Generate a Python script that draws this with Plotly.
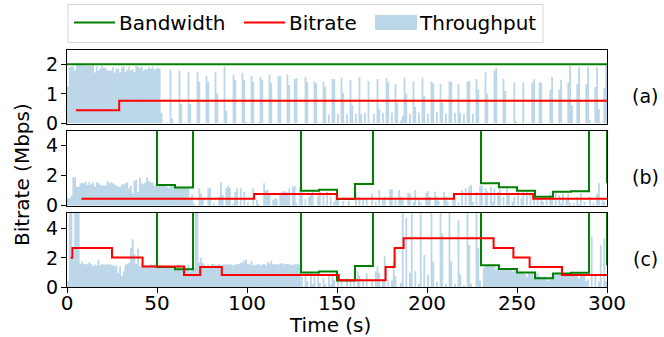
import plotly.graph_objects as go
from plotly.subplots import make_subplots

# ---------------- data ----------------
# Bandwidth traces (Mbps), step-post at given times
bw_a_t = [0, 300]
bw_a_v = [2.0, 2.0]
bw_bc_t = [0, 50, 60, 70, 130, 140, 150, 160, 170, 230, 240, 250, 260, 270, 280, 290, 300]
bw_bc_v = [10, 1.38, 1.22, 10, 1.0, 1.07, 0.45, 1.45, 10, 1.5, 1.23, 0.99, 0.6, 0.93, 0.97, 10, 1.5]

# Bitrate traces (Mbps), step-post
br_a_t = [5, 29, 300]
br_a_v = [0.45, 0.77, 0.77]
br_b_t = [8, 104, 150, 215, 259, 300]
br_b_v = [0.47, 0.78, 0.47, 0.78, 0.47, 0.47]
br_c_t = [2, 3, 25, 42, 65, 74, 86, 151, 177, 182, 187, 237, 248, 257, 275, 300]
br_c_v = [2.0, 2.67, 2.03, 1.4, 0.82, 1.38, 0.82, 0.47, 1.38, 2.67, 3.35, 2.67, 2.03, 1.38, 0.82, 0.82]

# Throughput (Mbps), per-second samples (time in s, value)
tp_a_t = list(range(0, 52)) + [
    52, 55, 57, 58, 62, 63, 65, 67, 68, 72, 73, 77, 78, 82, 83, 87, 88, 92, 93, 97, 98, 99,
    102, 103, 106, 107, 108, 112, 113, 117, 118, 122, 123, 126, 127, 132, 133, 137, 138,
    142, 143, 145, 147, 148, 150, 152, 153, 155, 157, 158, 160, 162, 163, 165, 167, 170,
    172, 173, 175, 177, 178, 180, 182, 183, 185, 186, 187, 188, 190, 192, 193, 195, 197,
    198, 200, 202, 203, 205, 207, 208, 210, 212, 213, 215, 217, 218, 220, 222, 223, 225,
    227, 228, 232, 233, 237, 238, 242, 243, 248, 249, 253, 258, 259, 262, 263, 268, 269,
    273, 274, 278, 279, 280, 283, 284, 288, 289, 290, 293, 294, 295, 298, 299]
tp_a_v = [
    1.24, 1.9, 1.92, 1.93, 1.8, 1.97, 1.98, 1.98, 1.97, 1.96, 1.97, 1.95, 1.96, 1.95, 1.97,
    1.72, 1.92, 1.78, 1.85, 1.94, 1.87, 1.87, 1.79, 1.8, 1.78, 1.9, 1.72, 1.86, 1.85, 1.72,
    1.9, 1.92, 1.74, 1.81, 1.92, 1.79, 1.83, 1.74, 1.94, 1.92, 1.87, 1.92, 1.79, 1.83, 1.83,
    1.9, 1.85, 1.92, 1.82, 1.85, 1.88, 1.84,
    0.36, 0.03, 1.81, 0.17, 1.79, 0.66, 0.03, 1.73, 0.66, 1.73, 1.41, 1.6, 1.41, 1.73, 1.02,
    1.92, 0.43, 1.65, 1.47, 1.71, 1.47, 0.05, 1.6, 1.41, 0.03, 1.58, 1.47, 1.65, 1.36, 1.6,
    1.6, 1.65, 1.3, 1.5, 1.53, 1.58, 1.41, 1.42, 1.36, 1.42, 1.24, 0.3, 1.5, 1.49, 0.32,
    1.54, 1.04, 0.32, 1.47, 0.62, 0.32, 1.57, 0.32, 0.36, 1.43, 0.32, 1.5, 0.49, 0.36, 1.53,
    1.39, 0.36, 1.33, 0.7, 0.1, 0.25, 1.54, 1.0, 0.32, 1.42, 0.56, 0.36, 1.54, 0.93, 0.32,
    1.42, 1.36, 0.4, 1.33, 0.7, 0.32, 1.42, 1.42, 0.36, 1.33, 0.36, 0.32, 1.4, 1.43, 0.32,
    1.5, 1.15, 1.73, 1.0, 1.79, 1.88, 1.5, 1.1, 1.38, 0.08, 1.38, 1.38, 1.49, 1.38, 1.38,
    1.13, 1.57, 1.15, 1.47, 1.39, 1.94, 0.62, 1.33, 1.9, 1.33, 1.9, 0.11, 1.23, 1.9, 0.49,
    1.19, 1.95]

tp_b_t = list(range(0, 71)) + [
    73, 74, 75, 78, 79, 81, 84, 85, 86, 88, 89, 90, 92, 93, 94, 96, 98, 100, 103, 105, 106,
    109, 110, 111, 112, 114, 115, 116, 118, 119, 120, 121, 122, 123, 125, 126, 127, 129,
    130, 132, 134, 135, 136, 139, 140, 142, 144, 146, 148, 149, 150, 153, 156, 160, 162,
    164, 166, 169, 171, 173, 175, 176, 179, 180, 182, 184, 185, 186, 189, 190, 192, 193,
    195, 196, 199, 200, 201, 204, 205, 206, 209, 210, 211, 214, 215, 217, 219, 221, 223,
    224, 225, 227, 229, 230, 232, 233, 235, 236, 237, 239, 240, 242, 244, 245, 247, 248,
    250, 252, 253, 255, 257, 259, 261, 263, 264, 266, 268, 269, 271, 273, 274, 275, 277,
    278, 279, 281, 283, 284, 285, 287, 290, 292, 294, 295, 297, 298]
tp_b_v = [
    0.49, 0.5, 0.64, 1.89, 1.89, 1.27, 1.27, 1.49, 1.53, 1.5, 1.56, 1.38, 1.56, 1.42, 1.56,
    1.27, 1.56, 1.49, 1.42, 1.33, 1.38, 1.33, 1.64, 1.49, 1.56, 1.49, 1.42, 1.35, 1.27, 1.27,
    1.42, 1.42, 1.49, 1.56, 1.16, 1.33, 0.82, 1.64, 1.71, 0.89, 1.87, 1.49, 1.42, 1.56, 1.89,
    1.64, 1.56, 1.56, 1.33, 1.42, 1.31, 1.33, 1.42, 1.42, 1.35, 1.27, 1.2, 1.33, 1.35, 1.38,
    1.2, 1.2, 1.2, 1.16, 1.18, 1.2, 1.11, 1.2, 0.38, 0.76, 0.16,
    1.16, 0.82, 0.53, 1.16, 1.16, 0.16, 0.6, 1.56, 0.71, 1.16, 1.33, 1.2, 0.16, 0.93, 1.16,
    1.16, 0.93, 0.22, 1.16, 0.38, 0.09, 1.49, 1.04, 1.04, 0.82, 0.38, 0.49, 0.44, 0.71, 0.93,
    0.98, 0.89, 0.89, 1.16, 1.27, 1.31, 0.16, 1.27, 0.93, 0.44, 0.6, 0.82, 0.93, 0.67, 0.93,
    0.71, 0.93, 0.6, 0.27, 0.71, 0.5, 0.31, 0.31, 0.93, 0.6, 0.44, 0.49, 0.82, 0.27, 1.04,
    0.38, 0.6, 1.09, 1.09, 0.49, 1.04, 0.6, 0.44, 0.87, 0.82, 0.27, 1.04, 0.49, 0.22, 0.87,
    0.98, 0.6, 0.93, 0.6, 0.31, 0.89, 0.6, 0.27, 0.67, 0.44, 0.22, 1.04, 1.16, 1.27, 1.38,
    0.27, 0.93, 1.33, 1.33, 1.16, 0.98, 1.27, 0.27, 1.16, 0.93, 1.11, 0.6, 1.16, 0.71, 0.27,
    0.6, 0.93, 0.49, 0.93, 1.04, 0.82, 0.82, 0.38, 0.49, 0.27, 0.38, 0.82, 0.49, 0.93, 0.71,
    0.16, 0.82, 0.38, 0.82, 0.16, 0.16, 0.6, 0.09, 0.82, 0.27, 0.6, 0.16, 0.82, 1.49, 0.49,
    0.27]

tp_c_t = list(range(0, 130)) + [
    130, 132, 133, 135, 136, 137, 139, 140, 142, 143, 145, 146, 147, 148, 150, 152, 155, 157,
    159, 161, 162, 164, 166, 169, 171, 172, 173, 175, 176, 178, 180, 181, 182, 185, 186, 188,
    190, 191, 193, 195, 196, 198, 200, 202, 203, 205, 207, 208, 210, 212, 213, 215, 217, 218,
    220, 222, 223, 224, 227, 228, 229, 231, 232, 233, 234, 235, 236, 237, 238, 239, 240, 241,
    242, 243, 244, 245, 246, 247, 248, 249, 250, 251, 252, 253, 254, 255, 256, 257, 258, 259,
    260, 261, 262, 263, 264, 265, 266, 267, 268, 269, 270, 271, 272, 273, 274, 275, 276, 277,
    278, 279, 280, 281, 282, 283, 284, 285, 286, 287, 288, 289, 291, 293, 295, 296, 298, 299]
tp_c_v = [
    0.4, 5.5, 5.5, 1.9, 5.5, 5.5, 5.5, 1.58, 1.76, 1.58, 1.54, 1.6, 1.72, 1.58, 1.42, 1.55,
    1.49, 1.88, 1.49, 1.58, 1.55, 1.54, 1.58, 1.54, 1.54, 1.5, 1.42, 1.49, 0.97, 1.42, 0.75,
    1.08, 1.54, 1.58, 1.65, 2.67, 3.28, 2.26, 1.58, 2.62, 1.42, 1.65, 1.42, 1.54, 1.5, 1.42,
    1.58, 1.49, 1.58, 1.45, 1.36, 1.54, 1.36, 1.49, 1.42, 1.36, 1.31, 1.42, 1.31, 1.3, 1.2,
    1.42, 1.42, 1.31, 1.36, 1.42, 1.31, 1.54, 1.08, 1.31, 1.3, 5.5, 5.5, 1.7, 2.0, 1.65, 1.5,
    1.42, 1.54, 1.42, 1.58, 1.58, 1.5, 1.49, 1.58, 1.49, 1.54, 1.55, 1.54, 1.54, 1.58, 1.54,
    1.49, 1.55, 1.58, 1.58, 1.65, 1.7, 1.81, 1.88, 1.58, 1.54, 1.76, 1.49, 1.5, 1.54, 1.58,
    1.49, 1.54, 1.58, 1.49, 1.72, 1.6, 1.81, 1.58, 1.54, 1.58, 1.54, 1.6, 1.65, 1.54, 1.58,
    1.58, 1.55, 1.54, 1.49, 1.58, 1.55, 1.58, 1.49,
    0.68, 0.97, 0.4, 0.97, 0.18, 0.75, 0.97, 0.29, 0.63, 0.18, 0.86, 0.18, 0.75, 0.5, 0.68,
    0.36, 0.59, 0.4, 0.45, 1.08, 0.75, 0.45, 0.97, 0.45, 1.08, 1.42, 0.97, 0.4, 2.1, 0.45,
    0.45, 1.76, 0.75, 0.29, 5.5, 4.75, 0.97, 5.5, 1.08, 0.22, 5.5, 2.2, 0.86, 5.5, 1.76,
    0.36, 5.5, 3.68, 0.22, 5.5, 1.76, 0.22, 4.59, 0.86, 0.13, 5.5, 2.89, 0.22, 5.5, 2.67,
    0.45, 1.31, 1.54, 1.49, 1.54, 1.42, 1.54, 1.4, 1.2, 1.42, 1.2, 1.2, 1.2, 1.25, 1.27,
    1.2, 1.27, 1.08, 1.2, 1.1, 0.97, 0.97, 0.97, 0.97, 0.9, 0.68, 0.97, 0.9, 0.97, 0.68,
    0.9, 0.97, 0.75, 0.68, 0.7, 0.75, 0.68, 0.4, 0.68, 0.75, 0.85, 0.97, 0.86, 0.97, 0.9,
    0.75, 0.97, 0.81, 0.86, 0.97, 0.9, 0.81, 0.97, 0.9, 0.59, 0.97, 0.81, 0.8, 0.4, 0.52,
    3.46, 0.75, 0.4, 2.9, 3.35, 0.4]

panel_labels = ["(a)", "(b)", "(c)"]
x_ticks = [0, 50, 100, 150, 200, 250, 300]
y_ticks = [[0, 1, 2], [0, 2, 4], [0, 2, 4]]
y_ranges = [[0, 2.48], [0, 5.0], [0, 5.1]]

# ---------------- figure ----------------
W, H = 664, 337
ML, MR, MT, MB = 67, 57, 50, 50
PW, PH = W - ML - MR, H - MT - MB


def px(x):
    return (x - ML) / PW


def py(y):
    return (H - MB - y) / PH


FONT = "DejaVu Sans"
TP_COLOR = "rgba(31,119,180,0.3)"
BW_COLOR = "#008000"
BR_COLOR = "#ff0000"

fig = make_subplots(rows=3, cols=1, shared_xaxes=True)

panels = [
    (tp_a_t, tp_a_v, bw_a_t, bw_a_v, br_a_t, br_a_v),
    (tp_b_t, tp_b_v, bw_bc_t, bw_bc_v, br_b_t, br_b_v),
    (tp_c_t, tp_c_v, bw_bc_t, bw_bc_v, br_c_t, br_c_v),
]
for i, (tt, tv, bt, bv, rt, rv) in enumerate(panels, start=1):
    fig.add_trace(go.Bar(x=[t + 0.5 for t in tt], y=tv, width=1.0,
                         marker=dict(color=TP_COLOR, line=dict(width=0)),
                         showlegend=False, hoverinfo="skip"), row=i, col=1)
    fig.add_trace(go.Scatter(x=bt, y=bv, mode="lines",
                             line=dict(color=BW_COLOR, width=2, shape="hv"),
                             showlegend=False), row=i, col=1)
    fig.add_trace(go.Scatter(x=rt, y=rv, mode="lines",
                             line=dict(color=BR_COLOR, width=2, shape="hv"),
                             showlegend=False), row=i, col=1)

domains = [[py(123.5), 1.0], [py(205.7), py(130.7)], [0.0, py(212.7)]]
for i in range(3):
    sfx = "" if i == 0 else str(i + 1)
    fig.layout["yaxis" + sfx].update(
        domain=domains[i], range=y_ranges[i], tickvals=y_ticks[i],
        showgrid=False, zeroline=False, showline=True, mirror=True,
        linecolor="black", linewidth=1.2, ticks="outside", ticklen=5,
        tickwidth=1.2, tickcolor="black", ticklabelstandoff=-1,
        tickfont=dict(family=FONT, size=19, color="black"))
    fig.layout["xaxis" + sfx].update(
        range=[0, 300], tickvals=x_ticks, showgrid=False, zeroline=False,
        showline=True, mirror=True, linecolor="black", linewidth=1.2,
        ticks="outside" if i == 2 else "", ticklen=5, tickwidth=1.2,
        tickcolor="black", showticklabels=(i == 2), ticklabelstandoff=-7,
        tickfont=dict(family=FONT, size=20, color="black"))

annotations = []
for lbl, yc in zip(panel_labels, [96, 177, 259]):
    annotations.append(dict(text=lbl, x=px(645), y=py(yc), xref="paper", yref="paper",
                            xanchor="center", yanchor="middle", showarrow=False,
                            font=dict(family=FONT, size=19, color="black")))
annotations.append(dict(text="Bitrate (Mbps)", x=px(22), y=py(175), xref="paper",
                        yref="paper", textangle=-90, xanchor="center", yanchor="middle",
                        showarrow=False, font=dict(family=FONT, size=20, color="black")))
annotations.append(dict(text="Time (s)", x=px(330), y=py(325), xref="paper", yref="paper",
                        xanchor="center", yanchor="middle", showarrow=False,
                        font=dict(family=FONT, size=20, color="black")))
# legend (drawn manually)
for txt, xl in [("Bandwidth", 117), ("Bitrate", 287), ("Throughput", 417)]:
    annotations.append(dict(text=txt, x=px(xl), y=py(23), xref="paper", yref="paper",
                            xanchor="left", yanchor="middle", showarrow=False,
                            font=dict(family=FONT, size=20, color="black")))

shapes = [
    dict(type="rect", xref="paper", yref="paper", x0=px(68), x1=px(543),
         y0=py(42.5), y1=py(4.5), line=dict(color="#d6d6d6", width=1),
         fillcolor="white", layer="below"),
    dict(type="line", xref="paper", yref="paper", x0=px(74), x1=px(115),
         y0=py(22.5), y1=py(22.5), line=dict(color=BW_COLOR, width=2)),
    dict(type="line", xref="paper", yref="paper", x0=px(244), x1=px(285),
         y0=py(22.5), y1=py(22.5), line=dict(color=BR_COLOR, width=2)),
    dict(type="rect", xref="paper", yref="paper", x0=px(375), x1=px(417),
         y0=py(30), y1=py(15), line=dict(width=0), fillcolor=TP_COLOR),
]

fig.update_layout(
    width=W, height=H, margin=dict(l=ML, r=MR, t=MT, b=MB),
    paper_bgcolor="white", plot_bgcolor="white", barmode="overlay",
    showlegend=False, annotations=annotations, shapes=shapes,
    font=dict(family=FONT, color="black"),
)

fig.write_html("out.html")
